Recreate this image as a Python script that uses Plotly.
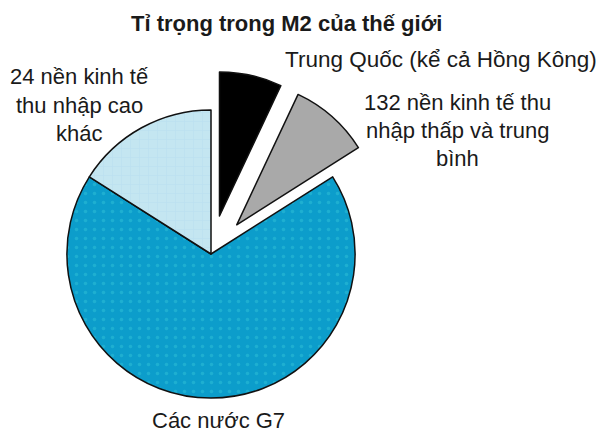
import plotly.graph_objects as go

# Share of world M2 by group of economies (percent)
groups = [
    "Trung Quốc (kể cả Hồng Kông)",
    "132 nền kinh tế thu nhập thấp và trung bình",
    "Các nước G7",
    "24 nền kinh tế thu nhập cao khác",
]
shares = [7, 9, 68, 16]
pulls = [0.27, 0.27, 0, 0]
colors = ["#000000", "#a9a9a9", "#0c9dcb", "#c4e6f1"]

title_text = "Tỉ trọng trong M2 của thế giới"
FONT = "Liberation Sans, Arial, sans-serif"

W, H = 601, 441

fig = go.Figure(
    go.Pie(
        labels=groups,
        values=shares,
        sort=False,
        direction="clockwise",
        rotation=0,
        pull=pulls,
        textinfo="none",
        hoverinfo="label+percent",
        showlegend=False,
        marker=dict(
            colors=colors,
            line=dict(color="#111111", width=1.5),
            pattern=dict(
                shape=["", "", ".", "+"],
                fgcolor=["#000000", "#a9a9a9", "#30c2d8", "#b0d8ee"],
                fillmode="overlay",
                size=9,
                solidity=0.12,
            ),
        ),
        domain=dict(x=[28 / W, 394 / W], y=[1 - 437 / H, 1 - 71 / H]),
    )
)


def px(x, y):
    return x / W, 1 - y / H


annotations = []


def label(lines, cx, ys, size=22, bold=False):
    for line, y in zip(lines, ys):
        x0, y0 = px(cx, y)
        annotations.append(
            dict(
                text=f"<b>{line}</b>" if bold else line,
                x=x0, y=y0, xref="paper", yref="paper",
                xanchor="center", yanchor="middle",
                showarrow=False,
                font=dict(family=FONT, size=size, color="#1a1a1a"),
            )
        )


label([title_text], 286, [24], size=22, bold=True)
label([groups[0]], 441, [59], size=22.5)
label(["132 nền kinh tế thu", "nhập thấp và trung", "bình"], 457, [102, 131, 159])
label(["24 nền kinh tế", "thu nhập cao", "khác"], 79, [76, 105, 134])
label([groups[2]], 218, [420])

fig.update_layout(
    width=W,
    height=H,
    margin=dict(l=0, r=0, t=0, b=0),
    paper_bgcolor="white",
    plot_bgcolor="white",
    annotations=annotations,
)

fig.write_html("out.html")
